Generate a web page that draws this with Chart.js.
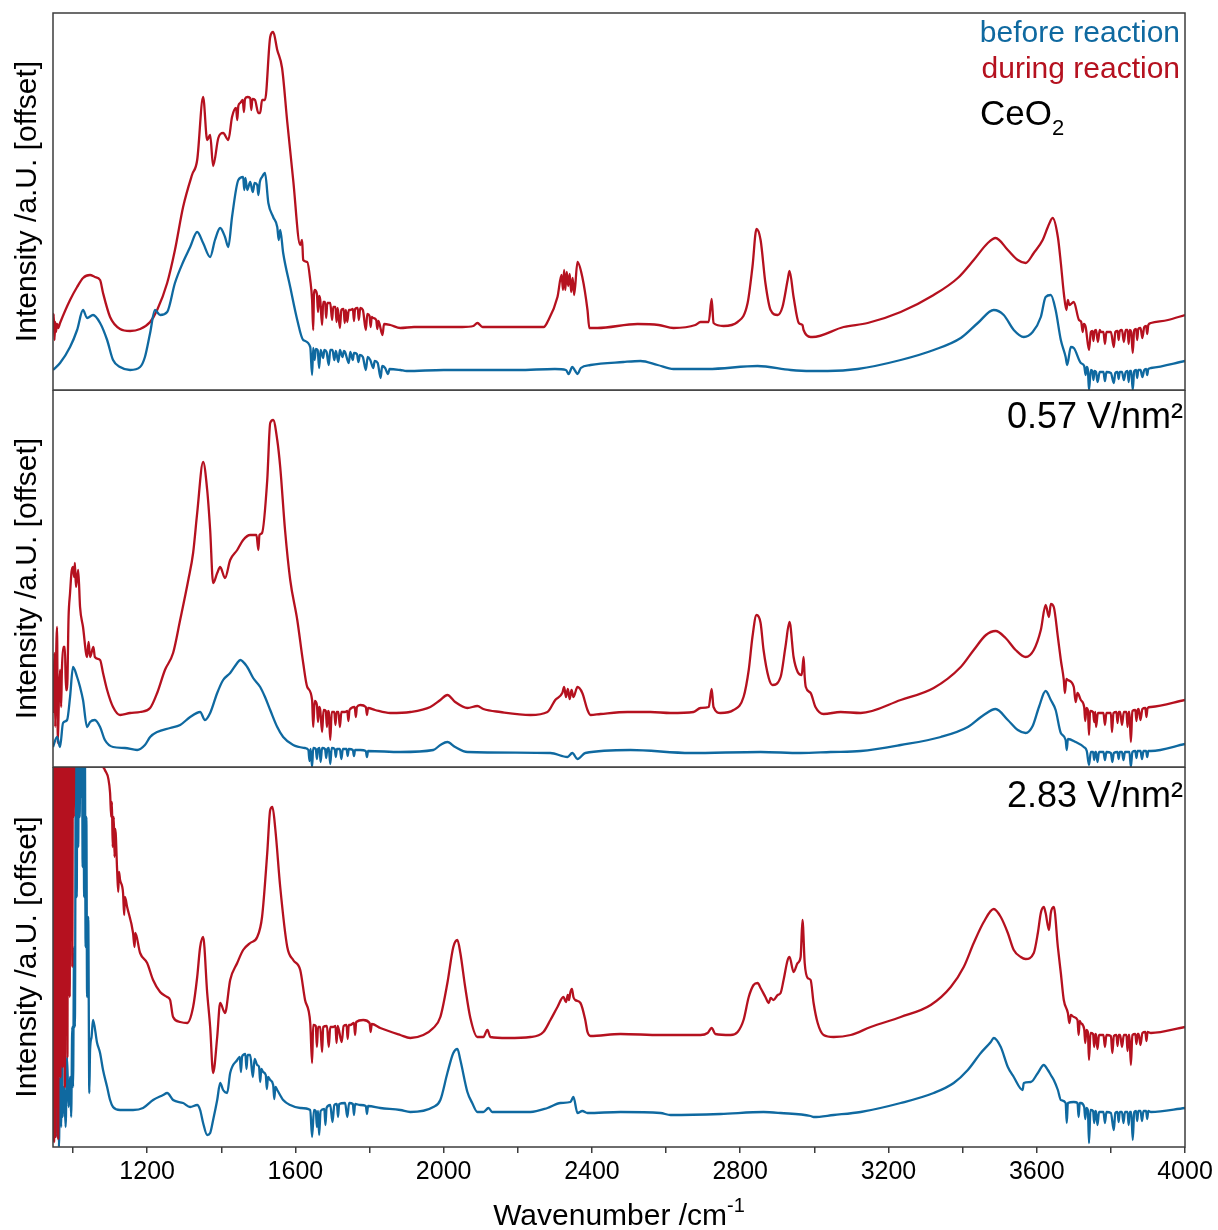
<!DOCTYPE html>
<html>
<head>
<meta charset="utf-8">
<title>DRIFTS spectra CeO2</title>
<script src="https://cdn.jsdelivr.net/npm/chart.js@4.4.1/dist/chart.umd.min.js"></script>
<style>
  html, body { margin: 0; padding: 0; background: #fff; }
  #wrap { position: relative; width: 1218px; height: 1230px; overflow: hidden; }
  .panel { position: absolute; left: 0; width: 1218px; }
</style>
</head>
<body>
<div id="wrap">
  <div class="panel" style="top:0;height:400px"><canvas id="topChart" width="1218" height="400"></canvas></div>
  <div class="panel" style="top:390px;height:400px"><canvas id="midChart" width="1218" height="400"></canvas></div>
  <div class="panel" style="top:767px;height:463px"><canvas id="botChart" width="1218" height="463"></canvas></div>
</div>
<script>
// Spectra as [wavenumber / cm-1, intensity / a.u. (offset)]
const topBefore = [[946,20],[965,27],[992,43],[1011,60],[1027,80],[1038,72],[1054,75],[1073,67],[1092,50],[1108,30],[1127,23],[1154,20],[1181,23],[1194,33],[1208,57],[1221,80],[1235,75],[1254,78],[1275,107],[1297,128],[1316,143],[1335,158],[1351,147],[1370,133],[1383,150],[1397,162],[1410,153],[1419,143],[1429,173],[1446,210],[1459,213],[1462,200],[1465,212],[1470,200],[1478,208],[1485,198],[1490,207],[1497,205],[1500,195],[1504,208],[1510,213],[1518,217],[1527,187],[1540,173],[1551,163],[1555,150],[1559,160],[1567,137],[1586,103],[1605,70],[1621,50],[1640,43],[1645,15],[1648,42],[1652,30],[1655,41],[1660,40],[1664,22],[1668,40],[1675,32],[1678,40],[1684,38],[1690,25],[1694,40],[1700,40],[1705,30],[1709,39],[1716,28],[1720,40],[1727,33],[1731,39],[1734,38],[1744,27],[1748,38],[1755,30],[1758,37],[1766,36],[1770,28],[1774,35],[1782,33],[1790,20],[1795,33],[1802,30],[1810,22],[1814,29],[1822,27],[1830,12],[1834,24],[1842,22],[1850,16],[1854,21],[1883,20],[1900,19],[2000,20],[2100,20],[2200,20],[2300,21],[2330,20],[2337,16],[2347,23],[2355,19],[2361,16],[2370,22],[2396,25],[2485,28],[2531,29],[2577,25],[2620,21],[2712,21],[2847,24],[2936,20],[2990,19],[3036,19],[3117,21],[3233,30],[3322,40],[3395,52],[3441,67],[3484,80],[3511,75],[3538,60],[3565,53],[3589,58],[3611,73],[3624,93],[3638,95],[3651,80],[3665,50],[3678,33],[3682,25],[3692,43],[3700,42],[3719,27],[3728,24],[3732,15],[3735,23],[3738,20],[3741,0],[3746,20],[3750,19],[3753,10],[3756,19],[3760,18],[3764,8],[3770,18],[3773,18],[3780,18],[3784,9],[3788,18],[3800,17],[3808,7],[3812,17],[3818,18],[3821,11],[3824,18],[3830,18],[3835,10],[3840,18],[3845,19],[3848,8],[3851,19],[3855,19],[3859,0],[3863,19],[3868,20],[3871,12],[3874,20],[3880,20],[3885,13],[3890,20],[3895,21],[3898,15],[3901,21],[3908,22],[4000,29]];

const topDuring = [[946,60],[948,76],[950,50],[952,68],[954,58],[957,66],[960,62],[965,67],[992,90],[1011,103],[1027,112],[1046,115],[1059,113],[1073,110],[1081,97],[1100,73],[1127,61],[1154,59],[1181,61],[1208,68],[1227,80],[1254,107],[1275,140],[1297,183],[1321,215],[1335,230],[1351,293],[1362,250],[1370,255],[1378,224],[1392,252],[1405,257],[1419,250],[1429,273],[1440,282],[1443,270],[1446,284],[1451,287],[1458,290],[1461,278],[1464,291],[1470,293],[1478,292],[1481,280],[1484,291],[1491,290],[1500,277],[1505,277],[1510,290],[1518,290],[1532,353],[1540,358],[1551,340],[1564,322],[1578,268],[1594,210],[1613,145],[1618,150],[1621,130],[1632,128],[1640,110],[1645,90],[1648,60],[1650,95],[1652,100],[1658,96],[1661,78],[1664,94],[1667,90],[1672,65],[1675,88],[1680,88],[1683,72],[1686,87],[1694,87],[1699,70],[1702,83],[1708,83],[1711,68],[1714,82],[1720,62],[1724,80],[1730,81],[1733,67],[1736,80],[1740,68],[1744,80],[1748,80],[1755,81],[1758,69],[1761,81],[1768,82],[1771,70],[1775,82],[1782,80],[1790,60],[1794,76],[1800,74],[1803,63],[1806,73],[1810,72],[1818,70],[1821,61],[1824,69],[1835,55],[1839,66],[1856,65],[1883,62],[1920,63],[1960,63],[2050,63],[2080,64],[2091,67],[2105,63],[2200,63],[2270,63],[2280,68],[2307,93],[2318,115],[2322,100],[2325,120],[2328,100],[2332,118],[2336,104],[2340,116],[2344,98],[2348,112],[2352,95],[2361,128],[2374,113],[2388,80],[2393,62],[2415,62],[2523,66],[2580,65],[2620,62],[2679,65],[2693,68],[2715,68],[2723,91],[2728,67],[2755,64],[2793,68],[2820,87],[2833,123],[2844,161],[2855,150],[2868,107],[2882,80],[2901,75],[2914,83],[2928,110],[2933,119],[2944,93],[2958,67],[2968,65],[2971,60],[2990,53],[2995,53],[3079,63],[3144,67],[3233,78],[3322,95],[3387,112],[3430,130],[3468,147],[3489,152],[3522,140],[3549,130],[3570,127],[3592,137],[3616,150],[3630,163],[3643,172],[3657,153],[3665,127],[3673,97],[3680,80],[3684,90],[3688,85],[3700,88],[3714,70],[3720,68],[3724,58],[3727,66],[3732,63],[3741,40],[3746,58],[3750,59],[3753,49],[3756,59],[3760,60],[3765,48],[3770,60],[3773,58],[3780,58],[3784,46],[3788,58],[3800,58],[3808,43],[3812,58],[3818,59],[3821,50],[3824,59],[3830,60],[3835,48],[3840,60],[3845,60],[3848,46],[3851,60],[3855,58],[3859,37],[3863,60],[3868,61],[3871,50],[3874,61],[3880,62],[3885,52],[3890,63],[3895,64],[3898,56],[3901,65],[3908,67],[3954,70],[4000,75]];

const midBefore = [[946,20],[957,30],[965,20],[973,44],[984,47],[992,70],[1000,100],[1011,90],[1019,80],[1027,67],[1038,40],[1046,45],[1059,47],[1073,40],[1086,27],[1108,20],[1140,19],[1173,17],[1194,22],[1208,30],[1227,35],[1262,39],[1289,42],[1316,50],[1343,55],[1356,47],[1370,54],[1389,74],[1405,87],[1424,94],[1443,104],[1451,107],[1470,100],[1486,89],[1505,80],[1518,70],[1532,57],[1551,40],[1567,30],[1594,22],[1626,19],[1635,17],[1638,6],[1641,18],[1645,0],[1648,19],[1655,18],[1658,8],[1661,18],[1665,19],[1668,5],[1672,19],[1680,18],[1683,9],[1686,18],[1690,19],[1694,3],[1698,19],[1706,18],[1709,10],[1712,18],[1720,18],[1724,8],[1728,18],[1738,18],[1741,11],[1744,18],[1755,17],[1758,11],[1761,17],[1775,17],[1790,16],[1793,10],[1796,16],[1883,15],[1972,17],[1991,22],[2010,25],[2031,20],[2064,15],[2288,14],[2334,10],[2347,14],[2361,8],[2382,14],[2504,17],[2666,14],[2855,15],[2963,14],[3044,15],[3125,16],[3233,22],[3341,30],[3414,40],[3457,52],[3489,58],[3522,47],[3549,37],[3570,34],[3589,41],[3606,60],[3624,76],[3638,67],[3651,57],[3665,34],[3678,27],[3681,17],[3684,28],[3705,25],[3727,20],[3735,16],[3741,2],[3746,15],[3752,15],[3755,7],[3758,15],[3760,15],[3764,5],[3768,15],[3780,15],[3784,7],[3788,15],[3800,14],[3804,5],[3808,14],[3818,15],[3821,8],[3824,15],[3830,15],[3834,7],[3838,15],[3850,15],[3854,0],[3858,15],[3866,16],[3869,9],[3872,16],[3880,16],[3884,8],[3888,16],[3895,16],[3898,10],[3901,16],[3908,16],[4000,23]];

const midDuring = [[946,54],[948,80],[950,114],[952,40],[954,100],[957,140],[959,24],[962,70],[965,97],[968,60],[970,97],[974,120],[978,120],[981,77],[984,77],[988,150],[992,174],[996,195],[1000,200],[1003,190],[1005,204],[1008,180],[1014,197],[1019,160],[1027,140],[1038,110],[1042,125],[1046,110],[1055,120],[1059,110],[1073,107],[1081,94],[1092,77],[1108,60],[1127,52],[1154,54],[1181,55],[1208,59],[1227,74],[1248,97],[1270,114],[1289,147],[1311,187],[1324,214],[1335,254],[1351,305],[1362,277],[1370,237],[1378,184],[1389,194],[1397,200],[1410,189],[1424,207],[1443,217],[1459,227],[1478,232],[1495,232],[1500,217],[1503,232],[1510,234],[1524,287],[1532,344],[1540,347],[1551,327],[1559,300],[1572,237],[1586,187],[1605,147],[1621,104],[1632,80],[1645,67],[1648,40],[1652,66],[1658,62],[1661,45],[1664,60],[1667,57],[1672,35],[1676,57],[1682,56],[1685,40],[1688,56],[1690,55],[1694,27],[1698,55],[1705,55],[1708,42],[1711,55],[1716,55],[1720,40],[1724,55],[1734,55],[1740,56],[1743,46],[1746,57],[1760,60],[1763,50],[1766,60],[1775,62],[1790,60],[1793,52],[1796,59],[1815,57],[1856,54],[1910,55],[1964,60],[1991,67],[2010,72],[2031,65],[2064,59],[2091,61],[2107,58],[2153,55],[2234,52],[2280,55],[2301,67],[2320,74],[2325,80],[2330,70],[2335,78],[2340,68],[2345,77],[2350,70],[2361,80],[2374,74],[2388,57],[2396,52],[2423,53],[2496,55],[2558,55],[2612,54],[2674,55],[2693,59],[2715,60],[2723,78],[2728,60],[2747,54],[2782,57],[2809,70],[2823,97],[2833,130],[2844,152],[2855,144],[2863,117],[2877,89],[2887,82],[2909,90],[2922,120],[2933,145],[2944,110],[2955,95],[2966,92],[2971,110],[2974,90],[2977,80],[2990,74],[3003,60],[3025,53],[3071,55],[3125,54],[3233,67],[3322,79],[3395,100],[3430,117],[3463,132],[3489,136],[3516,129],[3543,117],[3570,110],[3592,117],[3611,137],[3624,162],[3633,150],[3638,163],[3646,160],[3657,130],[3665,107],[3673,87],[3676,74],[3680,88],[3684,87],[3700,80],[3705,65],[3710,74],[3719,67],[3728,60],[3731,46],[3734,59],[3738,57],[3741,32],[3744,56],[3752,55],[3755,45],[3758,55],[3760,40],[3765,54],[3773,54],[3780,54],[3784,42],[3788,54],[3800,54],[3803,35],[3807,54],[3815,55],[3818,44],[3821,55],[3825,55],[3830,42],[3835,55],[3842,55],[3845,40],[3848,55],[3850,55],[3854,25],[3858,56],[3866,57],[3869,46],[3872,57],[3875,58],[3880,47],[3885,58],[3893,59],[3896,50],[3899,59],[3908,60],[4000,67]];

const botBefore = [[946,40],[950,20],[954,60],[957,10],[960,50],[962,0],[965,70],[968,20],[970,300],[972,30],[976,60],[980,20],[984,90],[988,40],[992,70],[995,30],[998,120],[1000,60],[1003,200],[1005,120],[1008,450],[1010,250],[1012,460],[1014,300],[1016,450],[1018,330],[1020,470],[1022,350],[1024,460],[1026,280],[1028,440],[1030,250],[1032,400],[1034,200],[1036,330],[1038,150],[1041,230],[1044,54],[1046,97],[1050,110],[1054,127],[1065,104],[1073,94],[1081,77],[1092,60],[1100,47],[1108,40],[1127,37],[1162,37],[1189,39],[1216,47],[1243,52],[1254,54],[1270,47],[1297,44],[1316,40],[1335,42],[1343,37],[1351,24],[1362,12],[1370,14],[1378,27],[1389,47],[1397,64],[1405,57],[1416,54],[1424,74],[1443,87],[1450,90],[1453,75],[1456,90],[1459,92],[1465,93],[1468,78],[1471,92],[1478,92],[1485,70],[1490,88],[1497,82],[1502,80],[1505,65],[1508,78],[1513,75],[1520,72],[1523,58],[1526,70],[1532,67],[1540,62],[1543,48],[1546,60],[1551,57],[1567,47],[1586,42],[1613,39],[1640,37],[1645,10],[1650,37],[1655,36],[1658,20],[1661,36],[1664,12],[1668,36],[1678,38],[1681,22],[1684,39],[1694,42],[1700,25],[1705,42],[1712,43],[1715,30],[1718,43],[1734,44],[1740,30],[1745,44],[1755,43],[1758,32],[1761,43],[1775,42],[1790,41],[1793,33],[1796,41],[1829,39],[1883,37],[1910,35],[1972,40],[1991,47],[2010,74],[2026,94],[2037,98],[2045,87],[2064,55],[2077,44],[2091,35],[2107,35],[2121,39],[2131,35],[2234,35],[2280,39],[2315,44],[2342,45],[2350,50],[2361,34],[2374,36],[2388,34],[2477,35],[2585,34],[2612,32],[2747,33],[2863,35],[2909,34],[2990,31],[2998,30],[3052,32],[3125,35],[3233,44],[3322,54],[3376,64],[3414,77],[3449,94],[3476,105],[3484,109],[3503,100],[3522,80],[3538,70],[3562,57],[3565,64],[3584,65],[3603,74],[3619,82],[3630,77],[3638,72],[3646,67],[3657,57],[3665,47],[3678,44],[3681,24],[3684,44],[3700,45],[3710,44],[3713,30],[3716,44],[3719,44],[3728,40],[3731,28],[3734,39],[3738,37],[3741,4],[3745,37],[3752,36],[3755,24],[3758,36],[3760,35],[3764,22],[3768,35],[3773,35],[3780,35],[3784,24],[3788,35],[3800,34],[3808,17],[3812,34],[3818,35],[3821,25],[3824,35],[3830,35],[3834,24],[3838,35],[3845,35],[3848,22],[3851,35],[3855,35],[3859,7],[3863,35],[3868,36],[3871,26],[3874,36],[3880,36],[3884,26],[3888,36],[3895,36],[3898,28],[3901,36],[3908,35],[4000,39]];

const botDuring = [[946,450],[947,20],[948,460],[949,5],[950,470],[951,60],[952,450],[953,10],[955,480],[956,40],[957,460],[958,90],[959,470],[960,8],[962,450],[963,150],[965,460],[966,70],[968,480],[969,120],[970,450],[972,80],[973,470],[975,180],[976,460],[978,60],[980,470],[981,130],[983,450],[985,90],[986,470],[988,200],[990,460],[991,150],[993,480],[995,250],[997,460],[998,180],[1000,470],[1002,330],[1004,460],[1010,450],[1040,470],[1065,420],[1073,387],[1086,377],[1100,354],[1103,330],[1105,345],[1107,300],[1110,330],[1112,290],[1114,318],[1119,277],[1122,255],[1124,275],[1127,267],[1135,254],[1138,232],[1140,250],[1146,240],[1162,214],[1166,200],[1168,214],[1181,194],[1200,184],[1216,167],[1235,155],[1254,150],[1262,147],[1270,130],[1289,125],[1308,124],[1324,140],[1335,170],[1343,200],[1351,210],[1362,154],[1370,120],[1378,74],[1389,110],[1397,144],[1410,134],[1424,167],[1443,184],[1459,197],[1478,204],[1497,210],[1510,230],[1524,294],[1532,337],[1538,340],[1546,317],[1559,260],[1578,200],[1594,187],[1613,177],[1626,147],[1640,124],[1645,84],[1648,122],[1655,121],[1658,100],[1661,120],[1667,120],[1672,95],[1675,120],[1685,121],[1690,100],[1694,120],[1702,120],[1708,121],[1711,104],[1714,121],[1725,105],[1730,121],[1738,122],[1741,108],[1744,122],[1748,122],[1758,124],[1761,112],[1764,125],[1783,127],[1800,124],[1803,115],[1806,123],[1829,119],[1883,112],[1910,109],[1945,112],[1972,119],[1991,130],[2010,164],[2026,200],[2037,207],[2045,194],[2058,160],[2072,129],[2091,110],[2107,110],[2118,117],[2126,110],[2172,109],[2234,110],[2269,115],[2288,127],[2307,140],[2323,150],[2330,145],[2335,152],[2338,147],[2342,155],[2346,158],[2350,150],[2355,147],[2369,144],[2382,127],[2388,115],[2396,111],[2477,113],[2585,112],[2693,112],[2712,114],[2723,119],[2733,113],[2774,112],[2793,115],[2809,127],[2823,150],[2836,162],[2847,164],[2855,159],[2868,150],[2877,144],[2882,149],[2890,147],[2901,152],[2909,154],[2917,167],[2928,187],[2933,190],[2944,175],[2955,184],[2963,190],[2968,227],[2974,184],[2982,169],[2990,167],[2998,144],[3009,124],[3025,112],[3052,110],[3098,112],[3152,120],[3233,130],[3314,142],[3368,160],[3403,180],[3430,204],[3457,225],[3484,238],[3503,230],[3522,214],[3538,197],[3557,190],[3570,188],[3592,194],[3603,214],[3611,234],[3619,240],[3624,234],[3633,217],[3638,234],[3646,240],[3657,200],[3665,174],[3673,147],[3684,134],[3688,124],[3692,132],[3700,130],[3710,127],[3713,112],[3716,126],[3719,124],[3728,118],[3731,104],[3734,117],[3738,115],[3741,87],[3745,114],[3752,113],[3755,100],[3758,113],[3760,112],[3764,98],[3768,112],[3773,112],[3780,112],[3784,100],[3788,112],[3800,111],[3804,94],[3808,111],[3815,112],[3818,101],[3821,112],[3825,112],[3830,100],[3835,112],[3842,112],[3845,96],[3848,112],[3850,112],[3854,82],[3858,112],[3866,113],[3869,103],[3872,113],[3875,113],[3880,102],[3885,114],[3893,115],[3896,106],[3899,115],[3908,114],[4000,120]];

const seriesNames = ['before reaction', 'during reaction'];
const fieldLabels = ['0.57 V/nm²', '2.83 V/nm²'];

const FONT = '"Liberation Sans", Arial, sans-serif';
const BLUE = '#0f69a0';
const RED = '#b5111f';
const FRAME = '#3c3c3c';

function toPoints(pairs) {
  return pairs.map(p => ({ x: p[0], y: p[1] }));
}

// box around the plot area
const framePlugin = {
  id: 'frame',
  afterDatasetsDraw(chart) {
    const { ctx, chartArea: a } = chart;
    ctx.save();
    ctx.strokeStyle = FRAME;
    ctx.lineWidth = 1.5;
    ctx.strokeRect(a.left, a.top, a.right - a.left, a.bottom - a.top);
    ctx.restore();
  }
};

function notes(draw) {
  return {
    id: 'notes',
    afterDraw(chart) {
      const ctx = chart.ctx;
      ctx.save();
      draw(ctx, chart.chartArea, chart);
      ctx.restore();
    }
  };
}

function lineSet(label, pairs, color, order) {
  return {
    label: label, data: toPoints(pairs), borderColor: color, borderWidth: 2.3,
    pointRadius: 0, cubicInterpolationMode: 'monotone', order: order
  };
}

function buildPanel(id, before, during, yMax, padding, bottomAxis, redOnTop, extra) {
  const xScale = bottomAxis ? {
    type: 'linear', min: 946, max: 4000,
    grid: { display: true, drawOnChartArea: false, drawTicks: true, tickLength: 6, color: FRAME, lineWidth: 1.5 },
    border: { display: false },
    ticks: {
      stepSize: 200, includeBounds: false, autoSkip: false, maxRotation: 0,
      color: '#000', font: { family: FONT, size: 25 }, padding: 4,
      callback: v => (v % 400 === 0 ? String(v) : '')
    },
    afterFit: s => { s.height = 83; }
  } : { type: 'linear', min: 946, max: 4000, display: false };

  return new Chart(document.getElementById(id), {
    type: 'line',
    data: {
      datasets: [
        lineSet(seriesNames[0], before, BLUE, redOnTop ? 1 : 0),
        lineSet(seriesNames[1], during, RED, redOnTop ? 0 : 1)
      ]
    },
    options: {
      responsive: false,
      animation: false,
      devicePixelRatio: 1,
      layout: { padding: padding },
      plugins: { legend: { display: false }, tooltip: { enabled: false } },
      scales: {
        x: xScale,
        y: {
          min: 0, max: yMax,
          ticks: { display: false },
          grid: { display: false },
          border: { display: false },
          title: {
            display: true, text: 'Intensity /a.U. [offset]', color: '#000',
            font: { family: FONT, size: 30 }, padding: { top: 10, bottom: 0 }
          },
          afterFit: s => { s.width = 53; }
        }
      }
    },
    plugins: [framePlugin, notes(extra)]
  });
}

buildPanel('topChart', topBefore, topDuring, 377, { left: 0, right: 33, top: 13, bottom: 10 }, false, false, (ctx, a) => {
  ctx.font = '30px ' + FONT;
  ctx.textAlign = 'right';
  ctx.fillStyle = BLUE;
  ctx.fillText(seriesNames[0], a.right - 5, a.top + 29);
  ctx.fillStyle = RED;
  ctx.fillText(seriesNames[1], a.right - 5, a.top + 65);
  ctx.fillStyle = '#000';
  ctx.textAlign = 'left';
  ctx.font = '35px ' + FONT;
  const x0 = a.right - 205;
  ctx.fillText('CeO', x0, a.top + 112);
  const w = ctx.measureText('CeO').width;
  ctx.font = '22px ' + FONT;
  ctx.fillText('2', x0 + w, a.top + 122);
});

buildPanel('midChart', midBefore, midDuring, 377, { left: 0, right: 33, top: 0, bottom: 23 }, false, false, (ctx, a) => {
  ctx.font = '36px ' + FONT;
  ctx.textAlign = 'right';
  ctx.fillStyle = '#000';
  ctx.fillText(fieldLabels[0], a.right - 2, a.top + 38);
});

buildPanel('botChart', botBefore, botDuring, 380, { left: 0, right: 33, top: 0, bottom: 0 }, true, true, (ctx, a, chart) => {
  ctx.fillStyle = '#000';
  ctx.textAlign = 'right';
  ctx.font = '36px ' + FONT;
  ctx.fillText(fieldLabels[1], a.right - 2, a.top + 40);

  // axis title with superscript exponent
  const main = 'Wavenumber /cm';
  const sup = '-1';
  ctx.textAlign = 'left';
  ctx.font = '30px ' + FONT;
  const w1 = ctx.measureText(main).width;
  ctx.font = '20px ' + FONT;
  const w2 = ctx.measureText(sup).width;
  const start = (a.left + a.right) / 2 - (w1 + w2) / 2;
  const base = chart.height - 5;
  ctx.font = '30px ' + FONT;
  ctx.fillText(main, start, base);
  ctx.font = '20px ' + FONT;
  ctx.fillText(sup, start + w1, base - 13);
});
</script>
</body>
</html>
